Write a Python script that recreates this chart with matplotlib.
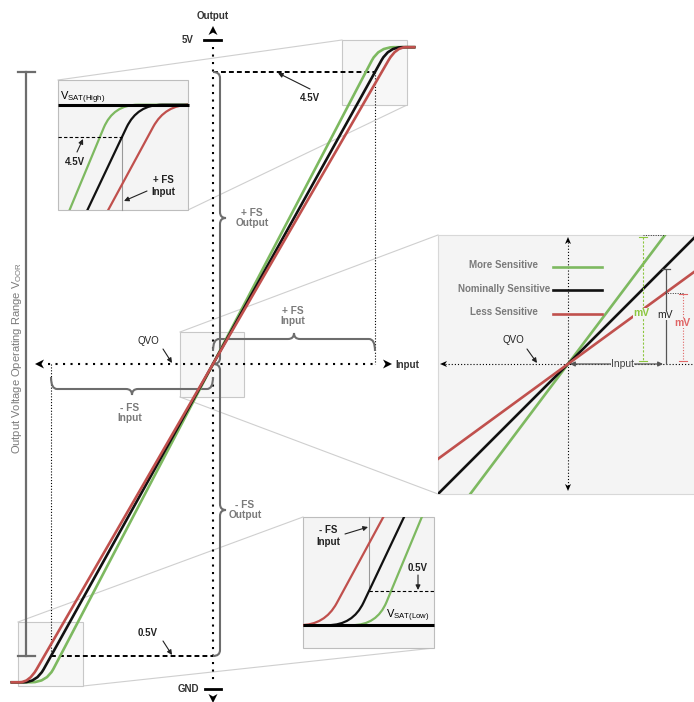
import numpy as np
import matplotlib
matplotlib.use("Agg")
import matplotlib.pyplot as plt
from matplotlib.path import Path
from matplotlib.patches import PathPatch, Rectangle, Polygon
from matplotlib.transforms import Affine2D

plt.rcParams['font.family'] = ['Liberation Sans', 'DejaVu Sans']

# sensor data (input in full-scale units, output in volts)
names = ["More Sensitive", "Nominally Sensitive", "Less Sensitive"]
colors = ["#7db960", "#111111", "#c0504d"]
light_colors = ["#8cc63f", "#111111", "#e06666"]
qvo = 2.5
vsat_high = 4.67
vsat_low = 0.32
fs_out_high = 4.5
fs_out_low = 0.5
sens_main = [2.12, 2.0, 1.92]     # V per full scale, main chart
sens_zoom = [2.28, 2.0, 1.75]     # exaggerated, saturation close-ups
sens_detail = [2.66, 2.0, 1.46]   # exaggerated, QVO close-up
supply = ["5V", "GND"]

GRAY = "#6d6d6d"
LGRAY = "#7a7a7a"
BOXBG = "#f4f4f4"
BOXEC = "#c8c8c8"

# panel layouts: (input, volts) -> pixel
main_tr = Affine2D().scale(162, -146).translate(213, 729)
tl_tr = Affine2D().scale(180, -190).translate(-58, 992)
br_tr = Affine2D().scale(180, -190).translate(549, 686)
det_tr = Affine2D().scale(97, -48.5).translate(568, 485.25)

fig = plt.figure(figsize=(6.94, 7.02), dpi=100)
ax = fig.add_axes([0, 0, 1, 1])
ax.set_xlim(0, 694)
ax.set_ylim(702, 0)
ax.axis('off')


def P(tr, x, v):
    return tr.transform([(x, v)])[0]


def rounded(pts, d):
    pts = [np.asarray(p, float) for p in pts]
    verts, codes = [pts[0]], [Path.MOVETO]
    for i in range(1, len(pts) - 1):
        p0, p, p1 = pts[i - 1], pts[i], pts[i + 1]
        l0, l1 = np.linalg.norm(p0 - p), np.linalg.norm(p1 - p)
        a = p + (p0 - p) / l0 * min(d, l0 / 2)
        b = p + (p1 - p) / l1 * min(d, l1 / 2)
        verts += [a, p, b]
        codes += [Path.LINETO, Path.CURVE3, Path.CURVE3]
    verts.append(pts[-1])
    codes.append(Path.LINETO)
    return Path(verts, codes)


def transfer(tr, s, span, d, lw, color, z, clip=None):
    pts = [(-span, vsat_low), ((vsat_low - qvo) / s, vsat_low),
           ((vsat_high - qvo) / s, vsat_high), (span, vsat_high)]
    pts = tr.transform(pts)
    pp = PathPatch(rounded(pts, d), fc='none', ec=color, lw=lw, zorder=z,
                   capstyle='butt', joinstyle='round')
    ax.add_patch(pp)
    if clip is not None:
        pp.set_clip_path(clip)


def arrowhead(tip, direction, length=9, width=9, color='k', z=4):
    dvec = np.asarray(direction, float)
    dvec /= np.linalg.norm(dvec)
    n = np.array([-dvec[1], dvec[0]])
    tip = np.asarray(tip, float)
    base = tip - dvec * length
    verts = [tip, base + n * width / 2, tip - dvec * length * 0.72, base - n * width / 2]
    ax.add_patch(Polygon(verts, closed=True, fc=color, ec='none', zorder=z))


def brace(p0, p1, n, a=7, b=6, c=6, color=GRAY, lw=1.5, z=3):
    p0, p1, n = np.asarray(p0, float), np.asarray(p1, float), np.asarray(n, float)
    L = np.linalg.norm(p1 - p0)
    e = (p1 - p0) / L
    loc = [(0, 0), (0, a), (c, a), (L / 2 - c, a), (L / 2, a), (L / 2, a + b),
           (L / 2, a), (L / 2 + c, a), (L - c, a), (L, a), (L, 0)]
    codes = [Path.MOVETO, Path.CURVE3, Path.CURVE3, Path.LINETO, Path.CURVE3, Path.CURVE3,
             Path.CURVE3, Path.CURVE3, Path.LINETO, Path.CURVE3, Path.CURVE3]
    verts = [p0 + s * e + u * n for s, u in loc]
    ax.add_patch(PathPatch(Path(verts, codes), fc='none', ec=color, lw=lw, zorder=z))


def pointer(txt_xy, tip, tail, label, color='#222', weight='bold', size=7):
    ax.text(*txt_xy, label, ha='center', va='center', fontsize=size,
            fontweight=weight, color=color, zorder=9)
    ax.annotate("", xy=tip, xytext=tail, zorder=9,
                arrowprops=dict(arrowstyle="-|>", lw=0.8, color='#222',
                                mutation_scale=7, shrinkA=0, shrinkB=0))


def connector(p, q):
    ax.plot([p[0], q[0]], [p[1], q[1]], color="#cfcfcf", lw=0.8, zorder=0.5)


# ---------------- zoom connectors and small boxes ----------------
connector((58, 80), (342, 40))
connector((188, 210), (407, 105))
connector((180, 332), (438, 235))
connector((180, 397), (438, 494))
connector((18, 622), (303, 517))
connector((83, 686), (434, 648))

for (x, y, w, h) in [(342, 40, 65, 65), (180, 332, 64, 65), (18, 622, 65, 64)]:
    ax.add_patch(Rectangle((x, y), w, h, fc="#f7f7f7", ec=BOXEC, lw=0.8, zorder=0.8))

# ---------------- main chart ----------------
o = P(main_tr, 0, qvo)
top5 = 40
gnd = 689
ax.plot([o[0], o[0]], [47, 683], color='k', lw=1.5, ls=(0, (1, 2.6)), zorder=2)
ax.plot([48, 374], [o[1], o[1]], color='k', lw=1.5, ls=(0, (1, 2.6)), zorder=2)
arrowhead((o[0], 26), (0, -1))
arrowhead((o[0], 703), (0, 1))
arrowhead((35, o[1]), (-1, 0))
arrowhead((392, o[1]), (1, 0))
ax.plot([204, 221], [top5, top5], color='k', lw=2, zorder=3)
ax.plot([205, 221], [gnd, gnd], color='k', lw=2, zorder=3)
ax.text(194, top5, supply[0], ha='right', va='center', fontsize=7, fontweight='bold', color='#333')
ax.text(199, gnd, supply[1], ha='right', va='center', fontsize=7, fontweight='bold', color='#333')
ax.text(o[0], 16, "Output", ha='center', va='center', fontsize=7, fontweight='bold', color='#333')
ax.text(395, o[1] + 1, "Input", ha='left', va='center', fontsize=7, fontweight='bold', color='#333')

# full scale reference lines
hi = P(main_tr, (fs_out_high - qvo) / sens_main[1], fs_out_high)
lo = P(main_tr, (fs_out_low - qvo) / sens_main[1], fs_out_low)
ax.plot([o[0], hi[0]], [hi[1], hi[1]], color='k', lw=1.4, ls=(0, (2.5, 1.6)), zorder=2)
ax.plot([lo[0], o[0]], [lo[1], lo[1]], color='k', lw=1.4, ls=(0, (2.5, 1.6)), zorder=2)
ax.plot([hi[0], hi[0]], [hi[1], o[1]], color='k', lw=0.8, ls=(0, (1, 1.6)), zorder=2)
ax.plot([lo[0], lo[0]], [o[1], lo[1]], color='k', lw=0.8, ls=(0, (1, 1.6)), zorder=2)

# operating range bracket
ax.plot([26, 26], [hi[1], lo[1]], color=GRAY, lw=1.6, zorder=2)
ax.plot([18, 35], [hi[1], hi[1]], color=GRAY, lw=1.6, zorder=2)
ax.plot([18, 35], [lo[1], lo[1]], color=GRAY, lw=1.6, zorder=2)
ax.text(17, 358, r"Output Voltage Operating Range V$_{\mathregular{OOR}}$", rotation=90,
        ha='center', va='center', fontsize=8, color=LGRAY)

# braces
brace((o[0], hi[1]), (o[0], o[1]), (1, 0))
brace((o[0], o[1]), (o[0], lo[1]), (1, 0))
brace((o[0], o[1] - 13), (hi[0], o[1] - 13), (0, -1), a=12, b=6)
brace((lo[0], o[1] + 13), (o[0], o[1] + 13), (0, 1), a=12, b=6)
for xy, t in [((252, 218), "+ FS\nOutput"), ((245, 510), "- FS\nOutput"),
              ((293, 316), "+ FS\nInput"), ((130, 413), "- FS\nInput")]:
    ax.text(*xy, t, ha='center', va='center', fontsize=7.3, fontweight='bold',
            color=LGRAY, linespacing=1.0)

for s, c in zip(sens_main, colors):
    transfer(main_tr, s, 1.25, 15, 1.9, c, 3)

pointer((310, 98), (278, 73), (310, 89), "4.5V")
pointer((148, 633), (172, 655), (163, 641), "0.5V")
pointer((148, 341), (172, 363), (163, 349), "QVO", weight='normal')

# ---------------- top-left close-up (saturation high) ----------------
tl_box = Rectangle((58, 80), 130, 130, fc=BOXBG, ec="#bdbdbd", lw=0.8, zorder=5)
ax.add_patch(tl_box)
for s, c in zip(sens_zoom, colors):
    transfer(tl_tr, s, 2.5, 25, 1.6, c, 6, clip=tl_box)
vh = P(tl_tr, 0, vsat_high)
th = P(tl_tr, (fs_out_high - qvo) / sens_zoom[1], fs_out_high)
ax.plot([58, 189], [vh[1], vh[1]], color='k', lw=2.2, zorder=7, solid_capstyle='butt')
ax.plot([58, th[0]], [th[1], th[1]], color='k', lw=0.8, ls=(0, (3, 2)), zorder=6)
ax.plot([th[0], th[0]], [th[1], 210], color='#999', lw=0.8, zorder=5.5)
ax.text(60, 98, r"V$_{\mathregular{SAT(High)}}$", ha='left', va='center', fontsize=8, zorder=8)
pointer((75, 162), (83, 139), (77, 152), "4.5V")
pointer((163, 186), (124, 201), (147, 191), "+ FS\nInput")

# ---------------- bottom-right close-up (saturation low) ----------------
br_box = Rectangle((303, 517), 131, 131, fc=BOXBG, ec="#bdbdbd", lw=0.8, zorder=5)
ax.add_patch(br_box)
for s, c in zip(sens_zoom, colors):
    transfer(br_tr, s, 2.5, 25, 1.6, c, 6, clip=br_box)
vl = P(br_tr, 0, vsat_low)
tb = P(br_tr, (fs_out_low - qvo) / sens_zoom[1], fs_out_low)
ax.plot([303, 434], [vl[1], vl[1]], color='k', lw=2.2, zorder=7, solid_capstyle='butt')
ax.plot([tb[0], 434], [tb[1], tb[1]], color='k', lw=0.8, ls=(0, (3, 2)), zorder=6)
ax.plot([tb[0], tb[0]], [517, tb[1]], color='#999', lw=0.8, zorder=5.5)
ax.text(386, vl[1] - 9, r"V$_{\mathregular{SAT(Low)}}$", ha='left', va='center', fontsize=8, zorder=8)
pointer((418, 568), (418, 590), (418, 575), "0.5V")
pointer((328, 536), (368, 527), (345, 534), "- FS\nInput")

# ---------------- right close-up (QVO / sensitivity) ----------------
det_box = Rectangle((438, 235), 260, 259, fc=BOXBG, ec="#d8d8d8", lw=0.8, zorder=5)
ax.add_patch(det_box)
d0 = P(det_tr, 0, qvo)
ax.plot([d0[0], d0[0]], [242, 488], color='k', lw=0.8, ls=(0, (1, 1.8)), zorder=6)
ax.plot([445, 694], [d0[1], d0[1]], color='k', lw=0.8, ls=(0, (1, 1.8)), zorder=6)
arrowhead((d0[0], 237), (0, -1), 7, 6, z=6)
arrowhead((d0[0], 491), (0, 1), 7, 6, z=6)
arrowhead((440, d0[1]), (-1, 0), 7, 6, z=6)

for s, c in zip(sens_detail, colors):
    pts = det_tr.transform([(-1.6, qvo - 1.6 * s), (1.6, qvo + 1.6 * s)])
    ln, = ax.plot(pts[:, 0], pts[:, 1], color=c, lw=1.9, zorder=7)
    ln.set_clip_path(det_box)

# legend
for i, (nm, c) in enumerate(zip(names, colors)):
    yy = 265 + 23.5 * i
    ax.text(504, yy, nm, ha='center', va='center', fontsize=7, fontweight='bold',
            color=LGRAY, zorder=8)
    ax.plot([553, 602], [yy + 1.5, yy + 1.5], color=c, lw=1.9, zorder=8)

# sensitivity brackets
fx = P(det_tr, 1.0, qvo)[0]
g_top = P(det_tr, 1.0, qvo + sens_detail[0])
k_top = P(det_tr, 1.0, qvo + sens_detail[1])
r_top = P(det_tr, 1.0, qvo + sens_detail[2])
gx = P(det_tr, 0.77, qvo)[0]
rx = P(det_tr, 1.19, qvo)[0]
ax.annotate("", xy=(fx - 2, d0[1]), xytext=(d0[0] + 2, d0[1]), zorder=8,
            arrowprops=dict(arrowstyle="<|-|>", lw=0.9, color='#555', mutation_scale=7,
                            shrinkA=0, shrinkB=0))
ax.text((d0[0] + fx) / 2 + 6, d0[1], "Input", ha='center', va='center', fontsize=7.5,
        color='#444', zorder=9, bbox=dict(fc=BOXBG, ec='none', pad=0.3))
# nominal
ax.plot([fx + 1, fx + 1], [k_top[1] + 2, d0[1] - 1], color='#555', lw=0.9, zorder=8)
ax.plot([fx - 3, fx + 5], [k_top[1] + 2, k_top[1] + 2], color='#555', lw=0.9, zorder=8)
ax.text(fx, 315, "mV", ha='center', va='center', fontsize=7.5, color='#222', zorder=9,
        bbox=dict(fc=BOXBG, ec='none', pad=0.3))
# more sensitive
ax.plot([gx, gx], [g_top[1] + 2, d0[1] - 3], color=light_colors[0], lw=0.8, ls=(0, (2, 1.5)), zorder=8)
for yy in [g_top[1] + 2, d0[1] - 3]:
    ax.plot([gx - 4, gx + 4], [yy, yy], color=light_colors[0], lw=0.8, zorder=8)
ax.plot([gx, g_top[0]], [g_top[1], g_top[1]], color='#333', lw=0.7, ls=(0, (1, 1.5)), zorder=8)
ax.text(gx - 1, 313, "mV", ha='center', va='center', fontsize=7.5, fontweight='bold',
        color=light_colors[0], zorder=9, bbox=dict(fc=BOXBG, ec='none', pad=0.3))
# less sensitive
ax.plot([rx, rx], [r_top[1] + 1, d0[1] - 3], color=light_colors[2], lw=0.8, ls=(0, (1, 1.5)), zorder=8)
for yy in [r_top[1] + 1, d0[1] - 3]:
    ax.plot([rx - 4, rx + 4], [yy, yy], color=light_colors[2], lw=0.8, zorder=8)
ax.plot([r_top[0], rx], [r_top[1], r_top[1]], color='#333', lw=0.7, ls=(0, (1, 1.5)), zorder=8)
ax.text(rx - 1, 323, "mV", ha='center', va='center', fontsize=7.5, fontweight='bold',
        color=light_colors[2], zorder=9, bbox=dict(fc=BOXBG, ec='none', pad=0.3))

pointer((513, 340), (537, 363), (527, 349), "QVO", weight='normal')

fig.savefig("out.png", dpi=100)
